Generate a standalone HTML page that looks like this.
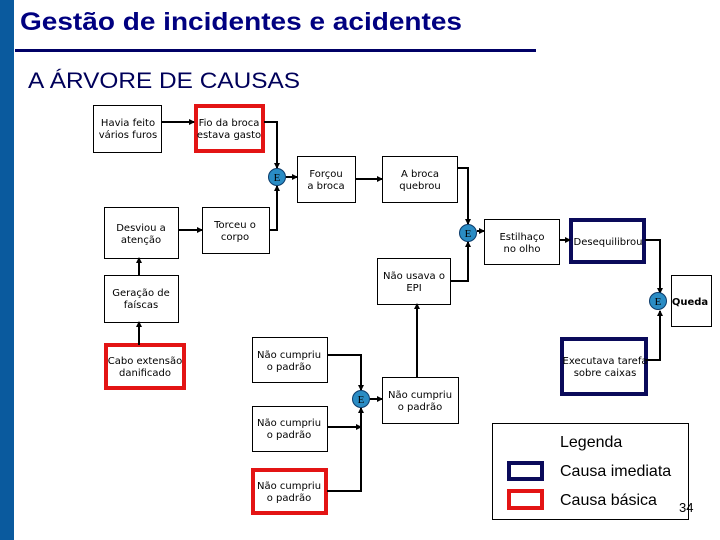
<!DOCTYPE html>
<html><head><meta charset="utf-8"><style>
html,body{margin:0;padding:0;background:#fff;}
svg{display:block;}
.t{font-family:"DejaVu Sans",Verdana,sans-serif;font-size:10px;fill:#000;text-anchor:middle;}
.e{font-family:"Liberation Serif",serif;font-size:11px;fill:#000;text-anchor:middle;}
</style></head><body>
<svg width="720" height="540" viewBox="0 0 720 540" xmlns="http://www.w3.org/2000/svg">
<defs>
<marker id="a" markerWidth="6" markerHeight="6" refX="5" refY="3" orient="auto" markerUnits="userSpaceOnUse"><path d="M0,0 L6,3 L0,6 Z" fill="#000"/></marker>
</defs>
<rect x="0" y="0" width="14" height="540" fill="#0a5a9e"/>
<text x="20" y="30" font-family="Liberation Sans,sans-serif" font-size="25" font-weight="bold" fill="#000080" textLength="442" lengthAdjust="spacingAndGlyphs">Gestão de incidentes e acidentes</text>
<rect x="15" y="49" width="521" height="3" fill="#000066"/>
<text x="28" y="88" font-family="Liberation Sans,sans-serif" font-size="22" fill="#00005a" textLength="272" lengthAdjust="spacingAndGlyphs">A ÁRVORE DE CAUSAS</text>

<g fill="#fff" stroke="#000" stroke-width="1">
<rect x="93.5" y="105.5" width="68" height="47"/>
<rect x="297.5" y="156.5" width="58" height="46"/>
<rect x="382.5" y="156.5" width="75" height="46"/>
<rect x="104.5" y="207.5" width="74" height="51"/>
<rect x="202.5" y="207.5" width="67" height="46"/>
<rect x="377.5" y="258.5" width="73" height="46"/>
<rect x="104.5" y="275.5" width="74" height="47"/>
<rect x="484.5" y="219.5" width="75" height="45"/>
<rect x="671.5" y="275.5" width="40" height="51"/>
<rect x="252.5" y="337.5" width="75" height="45"/>
<rect x="382.5" y="377.5" width="76" height="46"/>
<rect x="252.5" y="406.5" width="75" height="45"/>
<rect x="492.5" y="423.5" width="196" height="96"/>
</g>
<g fill="#fff" stroke="#e31414" stroke-width="4">
<rect x="196" y="106" width="67" height="45"/>
<rect x="106" y="345" width="78" height="43"/>
<rect x="253" y="470" width="73" height="43"/>
<rect x="509" y="491" width="33" height="17"/>
</g>
<g fill="#fff" stroke="#0a0a5a" stroke-width="4">
<rect x="571" y="220" width="73" height="42"/>
<rect x="562" y="339" width="84" height="55"/>
<rect x="509" y="463" width="33" height="16"/>
</g>

<g stroke="#000" stroke-width="2" fill="none" marker-end="url(#a)">
<path d="M162,122 H194"/>
<path d="M264,122 H277 V168"/>
<path d="M269,230 H277 V186"/>
<path d="M286,177 H297"/>
<path d="M355,179 H382"/>
<path d="M457,168 H468 V224"/>
<path d="M450,281 H468 V242"/>
<path d="M477,231 H484"/>
<path d="M559,240 H570"/>
<path d="M178,230 H202"/>
<path d="M139,275 V258"/>
<path d="M139,345 V322"/>
<path d="M645,240 H660 V293"/>
<path d="M646,360 H660 V311"/>
<path d="M327,355 H361 V390"/>
<path d="M327,427 H361"/>
<path d="M327,491 H361 V408"/>
<path d="M370,399 H382"/>
<path d="M417,377 V304"/>
</g>
<g fill="#2a8cc4" stroke="#0a3a6a" stroke-width="1">
<circle cx="277" cy="177" r="8.5"/>
<circle cx="468" cy="233" r="8.5"/>
<circle cx="658" cy="301" r="8.5"/>
<circle cx="361" cy="399" r="8.5"/>
</g>
<g class="e">
<text x="277" y="181" class="e">E</text>
<text x="468" y="237" class="e">E</text>
<text x="658" y="305" class="e">E</text>
<text x="361" y="403" class="e">E</text>
</g>

<g class="t">
<text x="128" y="126">Havia feito</text><text x="128" y="138">vários furos</text>
<text x="229" y="126">Fio da broca</text><text x="229" y="138">estava gasto</text>
<text x="326" y="177">Forçou</text><text x="326" y="189">a broca</text>
<text x="420" y="177">A broca</text><text x="420" y="189">quebrou</text>
<text x="141" y="231">Desviou a</text><text x="141" y="243">atenção</text>
<text x="235" y="228">Torceu o</text><text x="235" y="240">corpo</text>
<text x="414" y="279">Não usava o</text><text x="414" y="291">EPI</text>
<text x="141" y="296">Geração de</text><text x="141" y="308">faíscas</text>
<text x="522" y="240">Estilhaço</text><text x="522" y="252">no olho</text>
<text x="608" y="245">Desequilibrou</text>
<text x="690" y="305" font-weight="bold">Queda</text>
<text x="605" y="364">Executava tarefa</text><text x="605" y="376">sobre caixas</text>
<text x="145" y="364">Cabo extensão</text><text x="145" y="376">danificado</text>
<text x="289" y="358">Não cumpriu</text><text x="289" y="370">o padrão</text>
<text x="420" y="398">Não cumpriu</text><text x="420" y="410">o padrão</text>
<text x="289" y="426">Não cumpriu</text><text x="289" y="438">o padrão</text>
<text x="289" y="489">Não cumpriu</text><text x="289" y="501">o padrão</text>
</g>
<g font-family="Liberation Sans,sans-serif" font-size="16" fill="#000">
<text x="560" y="447">Legenda</text>
<text x="560" y="476">Causa imediata</text>
<text x="560" y="505">Causa básica</text>
<text x="679" y="512" font-size="13">34</text>
</g>
</svg>
</body></html>
